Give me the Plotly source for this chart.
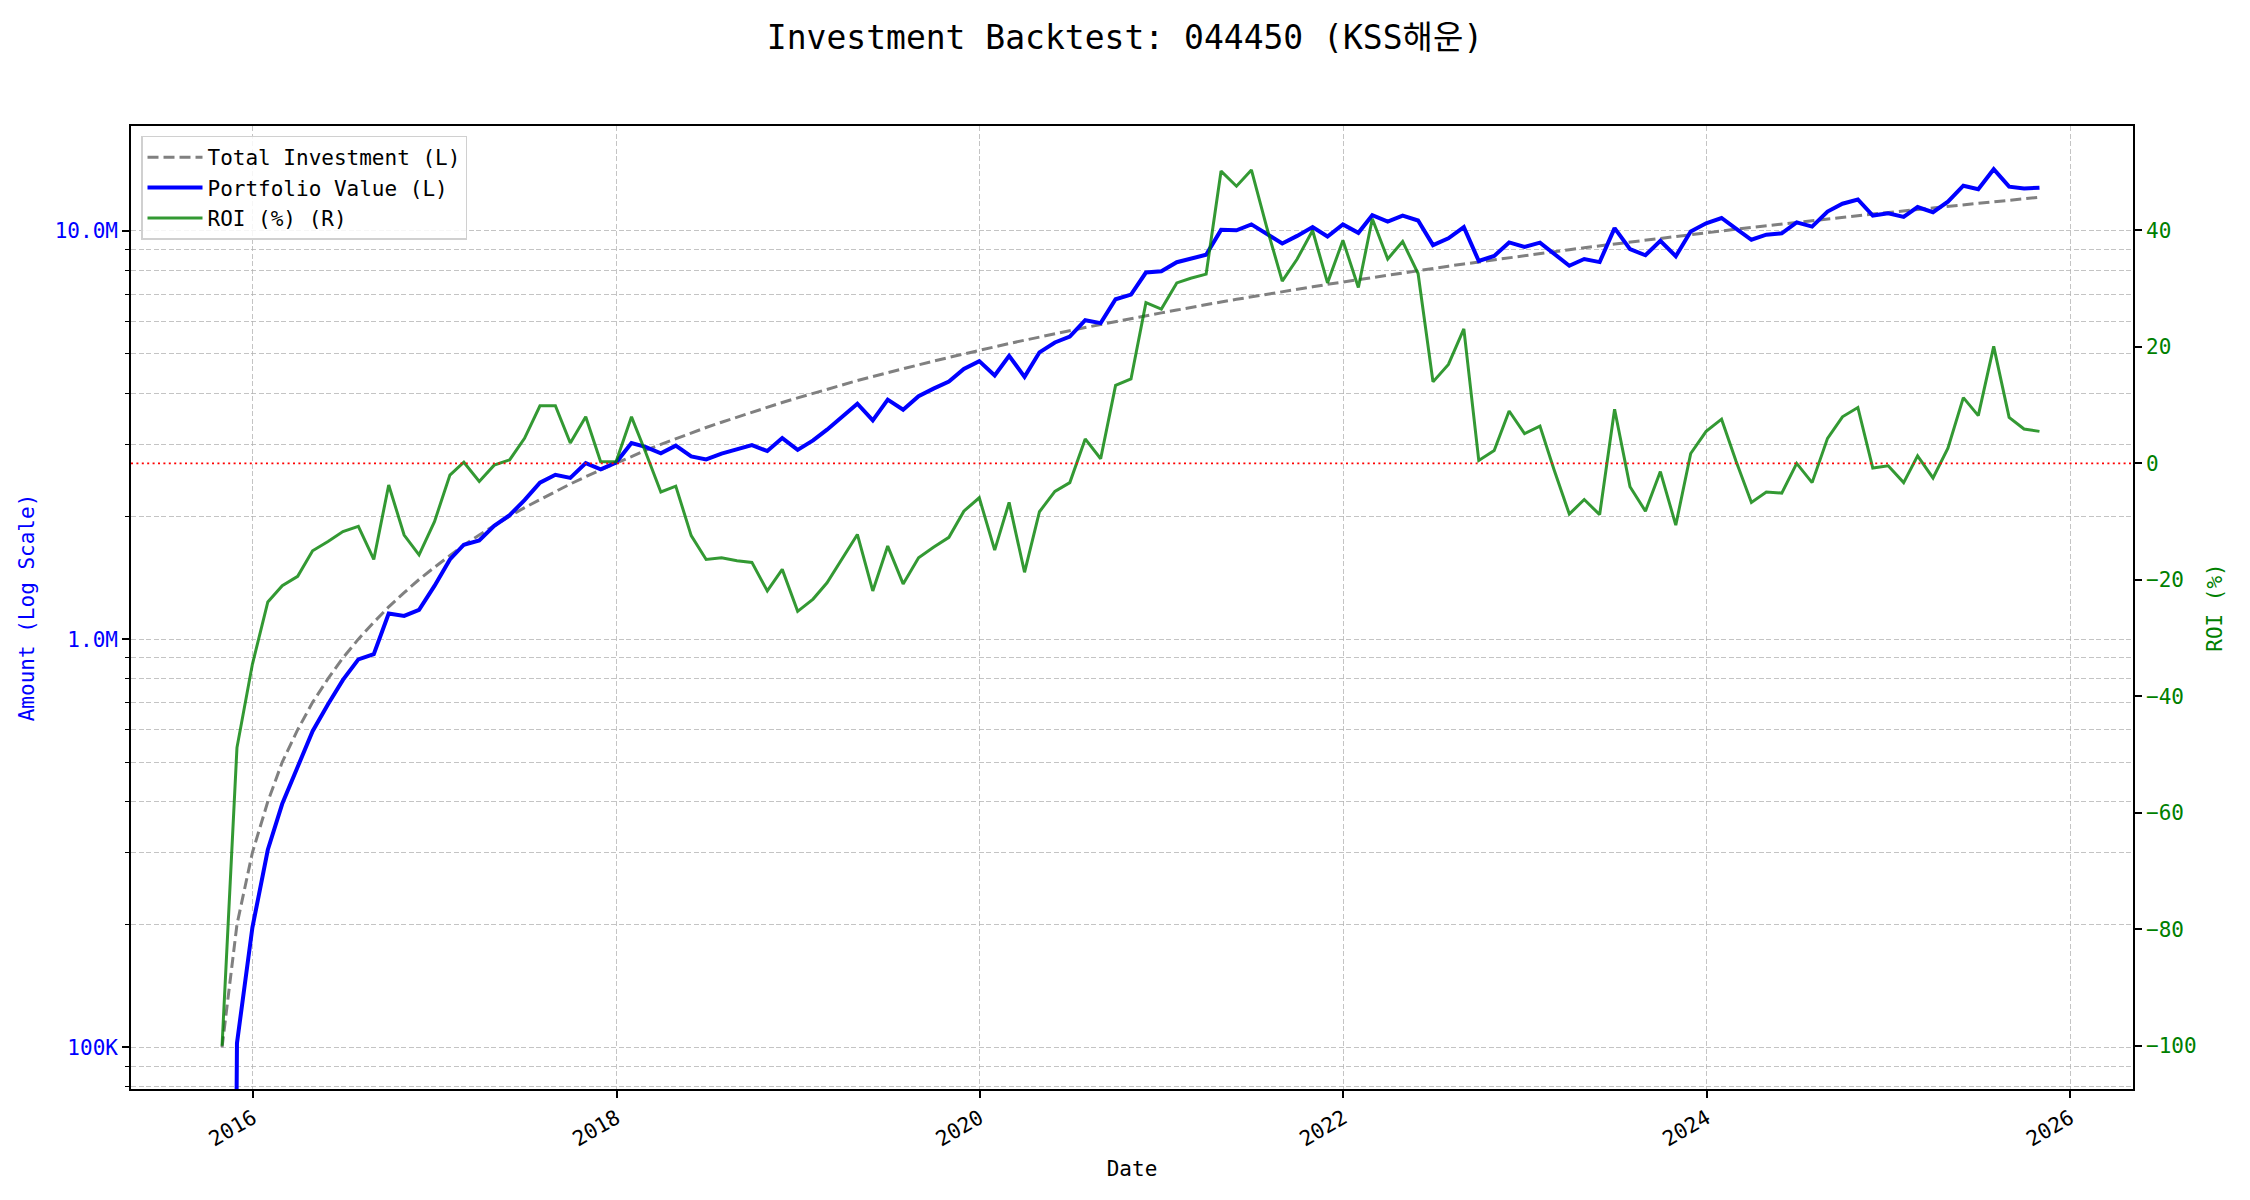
import numpy as np
import pandas as pd
import plotly.graph_objects as go

# ---- data ----
dates = pd.date_range("2015-10-31", periods=121, freq="ME")

invest_k = [100, 200, 300, 400, 500, 600, 700, 800, 900, 1000,
            1100, 1200, 1300, 1400, 1500, 1600, 1700, 1800, 1900, 2000,
            2100, 2200, 2300, 2400, 2500, 2600, 2700, 2800, 2900, 3000,
            3100, 3200, 3300, 3400, 3500, 3600, 3700, 3800, 3900, 4000,
            4100, 4200, 4300, 4400, 4500, 4600, 4700, 4800, 4900, 5000,
            5100, 5200, 5300, 5400, 5500, 5600, 5700, 5800, 5900, 6000,
            6100, 6200, 6300, 6400, 6500, 6600, 6700, 6800, 6900, 7000,
            7100, 7200, 7300, 7400, 7500, 7600, 7700, 7800, 7900, 8000,
            8100, 8200, 8300, 8400, 8500, 8600, 8700, 8800, 8900, 9000,
            9100, 9200, 9300, 9400, 9500, 9600, 9700, 9800, 9900, 10000,
            10100, 10200, 10300, 10400, 10500, 10600, 10700, 10800, 10900, 11000,
            11100, 11200, 11300, 11400, 11500, 11600, 11700, 11800, 11900, 12000,
            12100]

roi_pct = [-100.0, -48.8, -34.5, -23.8, -21.0, -19.4, -15.0, -13.4, -11.7, -10.8,
           -16.5, -3.7, -12.3, -15.7, -10.0, -2.0, 0.2, -3.1, -0.3, 0.6,
           4.3, 9.9, 9.9, 3.5, 8.0, 0.3, 0.3, 8.0, 2.0, -4.9,
           -3.9, -12.4, -16.5, -16.2, -16.7, -17.0, -21.9, -18.2, -25.4, -23.3,
           -20.5, -16.3, -12.2, -21.9, -14.2, -20.7, -16.2, -14.4, -12.7, -8.2,
           -5.9, -14.9, -6.7, -18.7, -8.3, -4.8, -3.3, 4.2, 0.8, 13.4,
           14.5, 27.6, 26.5, 31.0, 31.8, 32.5, 50.2, 47.6, 50.4, 40.5,
           31.3, 35.1, 40.0, 31.0, 38.3, 30.2, 42.0, 35.1, 38.1, 32.6,
           14.0, 17.0, 23.1, 0.5, 2.2, 9.0, 5.1, 6.4, -1.0, -8.7,
           -6.2, -8.8, 9.3, -4.0, -8.2, -1.4, -10.6, 1.7, 5.5, 7.6,
           0.4, -6.7, -4.9, -5.1, 0.0, -3.3, 4.3, 8.0, 9.6, -0.8,
           -0.4, -3.3, 1.3, -2.5, 2.6, 11.3, 8.2, 20.1, 7.9, 5.9,
           5.5]

left_tickvals = [1e5, 1e6, 1e7]
left_ticktext = ["100K", "1.0M", "10.0M"]
right_tickvals = [-100, -80, -60, -40, -20, 0, 20, 40]
right_ticktext = ["\u2212100", "\u221280", "\u221260", "\u221240", "\u221220", "0", "20", "40"]

# ---- derived ----
invest = np.array(invest_k, dtype=float) * 1000.0
portfolio = invest * (1.0 + np.array(roi_pct) / 100.0)
# log-scale display: non-positive values clipped to a tiny positive (as matplotlib does)
portfolio_plot = np.where(portfolio > 0, portfolio, 1.0)

minor_vals = []
for dec in [1e4, 1e5, 1e6, 1e7]:
    for m in range(2, 10):
        minor_vals.append(m * dec)

FONT = "DejaVu Sans Mono, Noto Sans CJK KR, monospace"
GRID = "rgba(176,176,176,0.75)"
GDASH = "5px,2.5px"

fig = go.Figure()
fig.add_trace(go.Scatter(x=dates, y=invest, name="Total Investment (L)", mode="lines",
                         line=dict(color="gray", width=3, dash="11px,5px"), yaxis="y"))
fig.add_trace(go.Scatter(x=dates, y=portfolio_plot, name="Portfolio Value (L)", mode="lines",
                         line=dict(color="#0000ff", width=4), yaxis="y"))
fig.add_trace(go.Scatter(x=dates, y=roi_pct, name="ROI (%) (R)", mode="lines",
                         line=dict(color="rgba(0,128,0,0.8)", width=3), yaxis="y2"))

fig.add_shape(type="line", xref="paper", x0=0, x1=1, yref="y2", y0=0, y1=0,
              line=dict(color="red", width=1.6, dash="2px,3.4px"), layer="above")

fig.update_layout(
    width=2250, height=1200,
    margin=dict(l=131, r=117, t=126, b=111, autoexpand=False),
    paper_bgcolor="white", plot_bgcolor="white",
    font=dict(family=FONT, size=21, color="black"),
    title=dict(text="Investment Backtest: 044450 (KSS해운)", xref="container", x=0.5,
               xanchor="center", y=1 - 37 / 1200, yanchor="middle",
               font=dict(family=FONT, size=33, color="black")),
    showlegend=True,
    legend=dict(x=0.005, y=0.99, xanchor="left", yanchor="top", itemwidth=55,
                bgcolor="rgba(255,255,255,0.85)", bordercolor="#d0d0d0", borderwidth=1.5,
                font=dict(family=FONT, size=21), tracegroupgap=0),
    xaxis=dict(type="date", range=["2015-05-01", "2026-05-07"],
               tick0="2016-01-01", dtick="M24", tickformat="%Y", tickangle=-30,
               ticks="outside", ticklen=7, tickwidth=1.7, tickcolor="black",
               showline=True, mirror=True, linecolor="black", linewidth=1.7,
               showgrid=True, gridcolor=GRID, gridwidth=1, griddash=GDASH,
               zeroline=False, automargin=False,
               title=dict(text="Date", standoff=11, font=dict(size=21))),
    yaxis=dict(type="log", range=[4.8979, 7.2572],
               tickmode="array", tickvals=left_tickvals, ticktext=left_ticktext,
               tickfont=dict(color="#0000ff"),
               ticks="outside", ticklen=7, tickwidth=1.7, tickcolor="black",
               showline=True, linecolor="black", linewidth=1.7,
               showgrid=True, gridcolor=GRID, gridwidth=1, griddash=GDASH,
               minor=dict(tickmode="array", tickvals=minor_vals, ticks="outside", ticklen=4,
                          tickwidth=1.2, tickcolor="black", showgrid=True, gridcolor=GRID,
                          gridwidth=1, griddash=GDASH),
               zeroline=False, automargin=False,
               title=dict(text="Amount (Log Scale)", standoff=14,
                          font=dict(color="#0000ff", size=21))),
    yaxis2=dict(overlaying="y", side="right", range=[-107.43, 57.94],
                tickmode="array", tickvals=right_tickvals, ticktext=right_ticktext,
                tickfont=dict(color="green"),
                ticks="outside", ticklen=7, tickwidth=1.7, tickcolor="black",
                showline=True, linecolor="black", linewidth=1.7,
                showgrid=False, zeroline=False, automargin=False,
                title=dict(text="ROI (%)", standoff=12, font=dict(color="green", size=21))),
)

fig.write_html("out.html", config={"displayModeBar": False},
               post_script="document.body.style.margin='0';document.body.style.overflow='hidden';")
